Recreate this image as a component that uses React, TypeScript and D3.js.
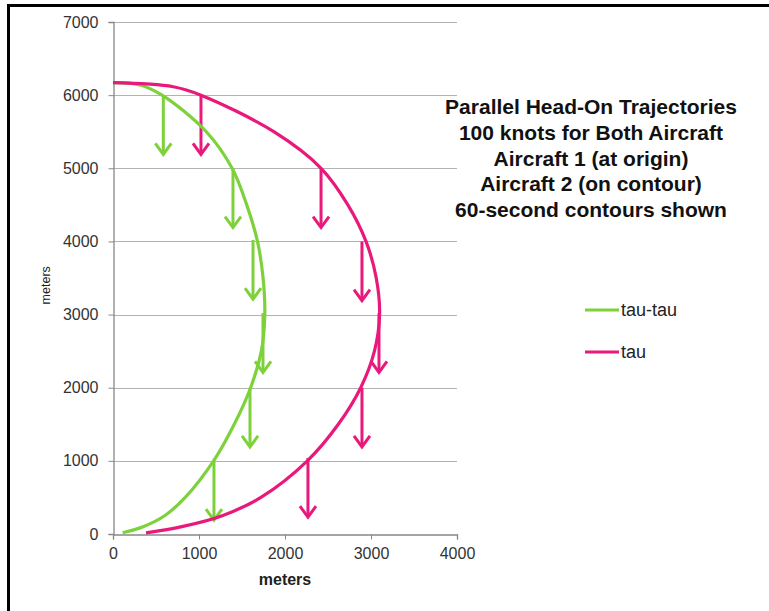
import { useEffect, useRef } from "react"
import * as d3 from "d3"

// contour points, [x meters, y meters]
const tauTau: [number, number][] = [
  [0, 6170], [314, 6139], [570, 6000], [1085, 5500], [1385, 5000], [1555, 4500],
  [1680, 4000], [1745, 3500], [1765, 3000], [1725, 2500], [1600, 2000], [1410, 1500],
  [1170, 1000], [840, 500], [600, 250], [350, 100], [112, 18],
]
const tau: [number, number][] = [
  [0, 6170], [700, 6115], [1023, 6000], [1870, 5500], [2420, 5000], [2731, 4500],
  [2942, 4000], [3061, 3500], [3100, 3000], [3040, 2500], [2880, 2000], [2620, 1500],
  [2260, 1000], [1720, 500], [1270, 250], [800, 100], [384, 15],
]
// arrow start points, 60-second steps
const tauTauArrows: [number, number][] = [
  [585, 6000], [1395, 5000], [1628, 4020], [1744, 3020], [1593, 2000], [1174, 1000],
]
const tauArrows: [number, number][] = [
  [1023, 6000], [2419, 5000], [2895, 4000], [3093, 3020], [2895, 2000], [2267, 1040],
]
const arrowLen = 810
const xTicks = [0, 1000, 2000, 3000, 4000]
const yTicks = [0, 1000, 2000, 3000, 4000, 5000, 6000, 7000]
const titleLines = [
  "Parallel Head-On Trajectories",
  "100 knots for Both Aircraft",
  "Aircraft 1 (at origin)",
  "Aircraft 2 (on contour)",
  "60-second contours shown",
]
const seriesNames = ["tau-tau", "tau"]
const colors = ["#7dd13b", "#e9197b"]

const W = 769, H = 611
const font = "'Liberation Sans', Arial, sans-serif"

export default function App() {
  const ref = useRef<SVGSVGElement>(null)

  useEffect(() => {
    const svg = d3.select(ref.current!)
    svg.selectAll("*").remove()

    const x = d3.scaleLinear().domain([0, 4000]).range([113, 457])
    const y = d3.scaleLinear().domain([0, 7000]).range([534, 22])

    // frame
    svg.append("path").attr("d", `M8.5,${H} V5.5 H${W}`)
      .attr("fill", "none").attr("stroke", "#000").attr("stroke-width", 3)

    // grid
    svg.append("g").selectAll("line").data(yTicks.filter(d => d > 0)).join("line")
      .attr("x1", x(0)).attr("x2", x(4000))
      .attr("y1", d => Math.round(y(d)) + 0.5).attr("y2", d => Math.round(y(d)) + 0.5)
      .attr("stroke", "#b3b3b3").attr("stroke-width", 1.2)

    // y axis
    const yAxis = svg.append("g").attr("transform", `translate(${x(0) + 0.5},0)`)
      .call(d3.axisLeft(y).tickValues(yTicks).tickSize(5).tickPadding(10).tickFormat(d3.format("d")))
    yAxis.select(".domain").attr("stroke", "#888").attr("stroke-width", 1.3)
    yAxis.selectAll(".tick line").attr("stroke", "#888")
    yAxis.selectAll("text").attr("font-family", font).attr("font-size", 16).attr("fill", "#333")

    // x axis
    const xAxis = svg.append("g").attr("transform", `translate(0,${y(0) + 0.5})`)
      .call(d3.axisBottom(x).tickValues(xTicks).tickSize(5).tickPadding(8).tickFormat(d3.format("d")))
    xAxis.select(".domain").attr("stroke", "#888").attr("stroke-width", 1.3)
    xAxis.selectAll(".tick line").attr("stroke", "#888")
    xAxis.selectAll("text").attr("font-family", font).attr("font-size", 16).attr("fill", "#333")

    svg.append("text").attr("x", x(2000)).attr("y", 585).attr("text-anchor", "middle")
      .attr("font-family", font).attr("font-size", 16).attr("font-weight", "bold").attr("fill", "#222")
      .text("meters")
    svg.append("text").attr("transform", `translate(50,${y(3400)}) rotate(-90)`).attr("text-anchor", "middle")
      .attr("font-family", font).attr("font-size", 12.5).attr("fill", "#222")
      .text("meters")

    const line = d3.line<[number, number]>().x(d => x(d[0])).y(d => y(d[1])).curve(d3.curveCatmullRom)

    const drawArrows = (pts: [number, number][], color: string) => {
      const g = svg.append("g").attr("stroke", color).attr("stroke-width", 3).attr("fill", "none")
        .attr("stroke-linecap", "butt").attr("stroke-linejoin", "miter")
      pts.forEach(p => {
        const x0 = x(p[0]), y0 = y(p[1]), y1 = y(p[1] - arrowLen)
        g.append("line").attr("x1", x0).attr("x2", x0).attr("y1", y0).attr("y2", y1 - 1)
        g.append("path").attr("d", `M${x0 - 8},${y1 - 11} L${x0},${y1} L${x0 + 8},${y1 - 11}`)
      })
    }

    drawArrows(tauTauArrows, colors[0])
    drawArrows(tauArrows, colors[1])

    ;[tauTau, tau].forEach((s, i) => {
      svg.append("path").attr("d", line(s) || "").attr("fill", "none")
        .attr("stroke", colors[i]).attr("stroke-width", 3.2)
    })

    // legend
    seriesNames.forEach((name, i) => {
      const ly = 310 + i * 42
      svg.append("line").attr("x1", 585).attr("x2", 619).attr("y1", ly).attr("y2", ly)
        .attr("stroke", colors[i]).attr("stroke-width", 3)
      svg.append("text").attr("x", 621).attr("y", ly + 6).attr("font-family", font)
        .attr("font-size", 18).attr("fill", "#222").text(name)
    })

    // title
    svg.append("g").selectAll("text").data(titleLines).join("text")
      .attr("x", 591).attr("y", (_, i) => 114 + i * 25.8).attr("text-anchor", "middle")
      .attr("font-family", font).attr("font-size", 21).attr("font-weight", "bold").attr("fill", "#111")
      .text(d => d)
  }, [])

  return (
    <div style={{ position: "absolute", left: 0, top: 0, width: W, height: H, background: "#fff" }}>
      <svg ref={ref} width={W} height={H} />
    </div>
  )
}
